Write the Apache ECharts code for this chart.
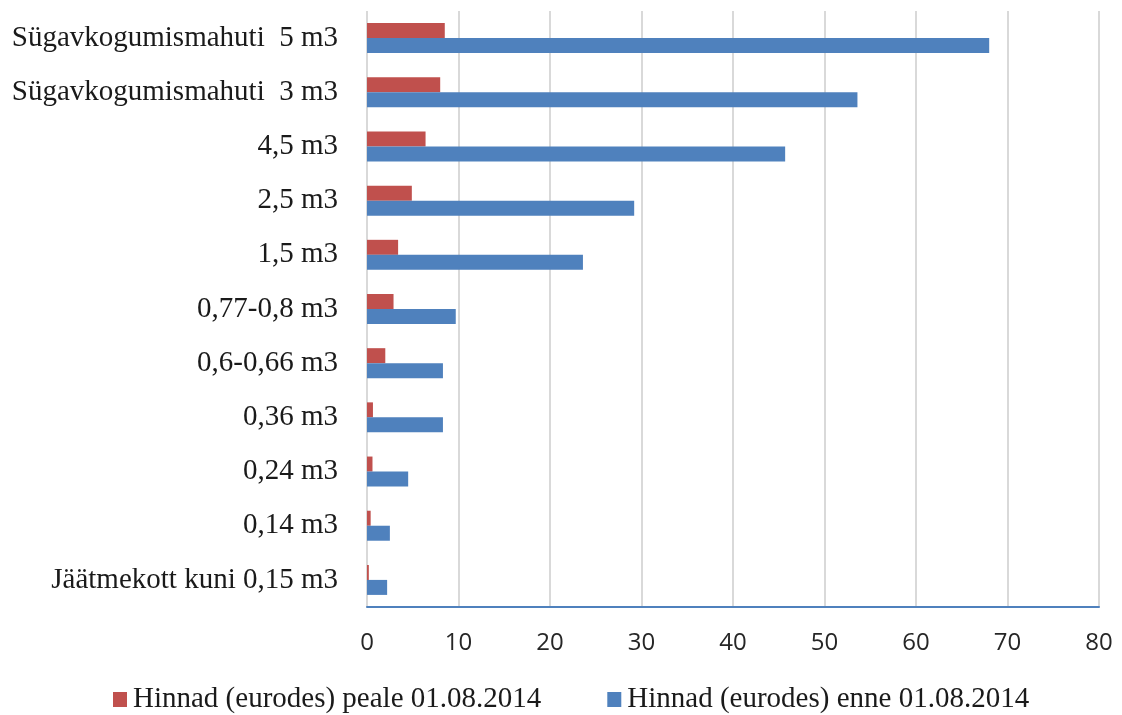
<!DOCTYPE html>
<html>
<head>
<meta charset="utf-8">
<script src="https://cdn.jsdelivr.net/npm/echarts@6/dist/echarts.min.js"></script>
<style>
  html, body { margin: 0; padding: 0; background: #fff; }
  #chart { width: 1122px; height: 715px; }
</style>
</head>
<body>
<div id="chart"></div>
<script>
// Container types, listed top to bottom
const categories = [
  'Sügavkogumismahuti  5 m3',
  'Sügavkogumismahuti  3 m3',
  '4,5 m3',
  '2,5 m3',
  '1,5 m3',
  '0,77-0,8 m3',
  '0,6-0,66 m3',
  '0,36 m3',
  '0,24 m3',
  '0,14 m3',
  'Jäätmekott kuni 0,15 m3'
];

// Prices after 01.08.2014 (EUR)
const pricesAfter = [8.5, 8.0, 6.4, 4.9, 3.4, 2.9, 2.0, 0.65, 0.6, 0.4, 0.2];

// Prices before 01.08.2014 (EUR)
const pricesBefore = [68.0, 53.6, 45.7, 29.2, 23.6, 9.7, 8.3, 8.3, 4.5, 2.5, 2.2];

const seriesNames = [
  'Hinnad (eurodes) peale 01.08.2014',
  'Hinnad (eurodes) enne 01.08.2014'
];

const xTicks = { min: 0, max: 80, interval: 10 };

const RED = '#C0504D';
const BLUE = '#4F81BD';
const SERIF = '"Liberation Serif", "Times New Roman", serif';

const chart = echarts.init(document.getElementById('chart'), null, { renderer: 'canvas' });

chart.setOption({
  animation: false,
  backgroundColor: '#ffffff',
  grid: { left: 367, right: 23, top: 11, bottom: 108, containLabel: false },
  legend: {
    data: seriesNames,
    left: 113,
    top: 685,
    padding: 0,
    itemWidth: 14,
    itemHeight: 15,
    itemGap: 66,
    icon: 'rect',
    textStyle: { fontFamily: SERIF, fontSize: 29, color: '#1a1a1a', padding: [0, 0, 0, 1] }
  },
  xAxis: {
    type: 'value',
    min: xTicks.min,
    max: xTicks.max,
    interval: xTicks.interval,
    axisLine: { show: true, lineStyle: { color: BLUE, width: 2 } },
    axisTick: { show: false },
    axisLabel: {
      margin: 24,
      fontFamily: '"Open Sans", "Noto Sans", sans-serif',
      fontSize: 24,
      color: '#262626'
    },
    splitLine: { show: true, lineStyle: { color: '#d9d9d9', width: 2 } }
  },
  yAxis: {
    type: 'category',
    data: categories,
    inverse: true,
    axisLine: { show: false },
    axisTick: { show: false },
    axisLabel: {
      margin: 29,
      fontFamily: SERIF,
      fontSize: 29,
      color: '#1a1a1a'
    },
    splitLine: { show: false }
  },
  series: [
    {
      name: seriesNames[0],
      type: 'bar',
      data: pricesAfter,
      barWidth: 15,
      barGap: '0%',
      itemStyle: { color: RED }
    },
    {
      name: seriesNames[1],
      type: 'bar',
      data: pricesBefore,
      barWidth: 15,
      barGap: '0%',
      itemStyle: { color: BLUE }
    }
  ]
});
</script>
</body>
</html>
